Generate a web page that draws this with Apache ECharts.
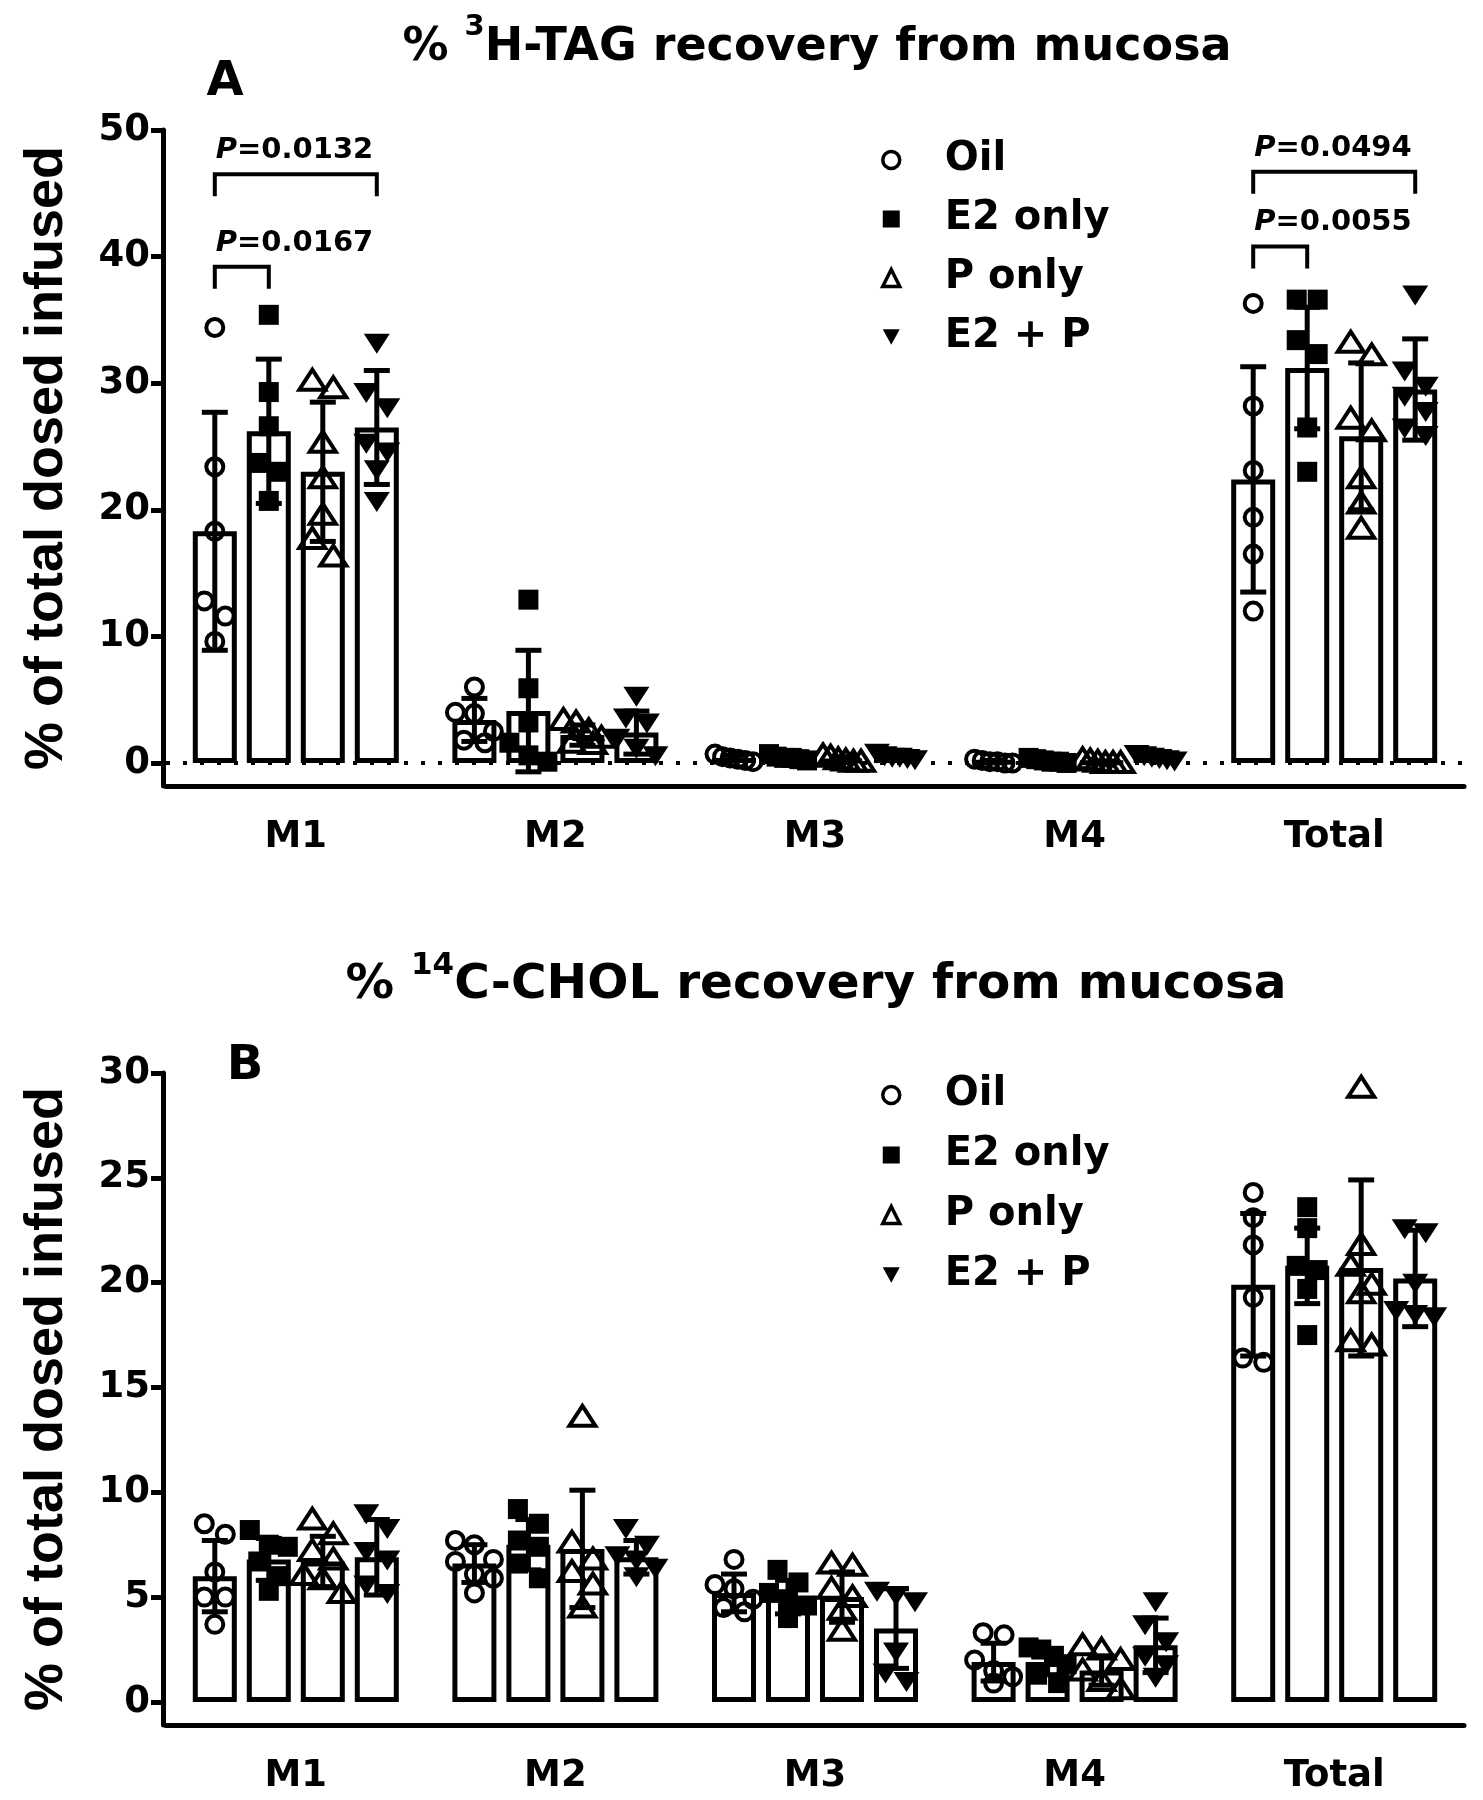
<!DOCTYPE html>
<html><head><meta charset="utf-8">
<script src="https://cdn.jsdelivr.net/npm/echarts@6/dist/echarts.min.js"></script>
<style>html,body{margin:0;padding:0;background:#fff}#c{width:1483px;height:1800px}</style>
</head><body><div id="c"></div>
<script>
// ---------- data ----------
const categories = ['M1', 'M2', 'M3', 'M4', 'Total'];
const groupNames = ['Oil', 'E2 only', 'P only', 'E2 + P'];
const yTicksA = [0, 10, 20, 30, 40, 50];
const yTicksB = [0, 5, 10, 15, 20, 25, 30];

// Panel A: % 3H-TAG recovery from mucosa
const tagMeanOil = [18.3, 3.4, 0.4, 0.1, 22.4];
const tagMeanE2  = [26.2, 4.1, 0.4, 0.15, 31.2];
const tagMeanP   = [23.0, 2.2, 0.3, 0.05, 25.8];
const tagMeanE2P = [26.5, 2.4, 0.5, 0.4, 29.5];
const tagSdOil = [9.4, 1.7, 0.2, 0.1, 8.9];
const tagSdE2  = [5.7, 4.8, 0.2, 0.1, 4.8];
const tagSdP   = [5.5, 0.8, 0.2, 0.1, 5.8];
const tagSdE2P = [4.5, 1.7, 0.2, 0.2, 4.0];
const tagPtsOil = [[34.4, 23.4, 18.3, 12.8, 11.6, 9.6], [6.0, 4.0, 3.9, 2.5, 1.8, 1.6], [0.7, 0.5, 0.4, 0.3, 0.2, 0.1], [0.3, 0.2, 0.1, 0.1, 0.0, 0.0], [36.3, 28.2, 23.1, 19.4, 16.5, 12.0]];
const tagPtsE2  = [[35.4, 29.3, 26.6, 23.7, 23.0, 20.7], [12.9, 5.9, 3.2, 1.6, 0.6, 0.1], [0.7, 0.5, 0.4, 0.4, 0.3, 0.2], [0.4, 0.3, 0.2, 0.1, 0.1, 0.0], [36.6, 36.6, 33.4, 32.3, 26.5, 23.0]];
const tagPtsP   = [[30.2, 29.6, 25.3, 22.5, 19.6, 17.7, 16.3], [3.4, 3.2, 2.6, 2.0, 1.6, 1.5], [0.6, 0.5, 0.3, 0.2, 0.1, 0.1], [0.3, 0.2, 0.1, 0.0, 0.0, 0.0], [33.2, 32.2, 27.2, 26.2, 22.5, 20.5, 18.5]];
const tagPtsE2P = [[33.2, 29.3, 28.1, 25.3, 24.6, 23.2, 20.7], [5.3, 3.6, 3.2, 2.0, 1.2, 0.6], [0.8, 0.6, 0.5, 0.5, 0.4, 0.3], [0.7, 0.6, 0.5, 0.4, 0.3, 0.2], [37.0, 31.0, 29.8, 29.0, 27.8, 26.5, 25.9]];

// Panel A significance brackets
const bracketCat   = [0, 0, 4, 4];
const bracketFrom  = [0, 0, 0, 0];
const bracketTo    = [3, 1, 3, 1];
const bracketY     = [46.5, 39.2, 46.7, 40.8];
const bracketPval  = ['0.0132', '0.0167', '0.0494', '0.0055'];

// Panel B: % 14C-CHOL recovery from mucosa
const cholMeanOil = [6.0, 6.6, 5.2, 1.9, 19.9];
const cholMeanE2  = [6.8, 7.5, 5.0, 1.9, 20.8];
const cholMeanP   = [6.7, 7.3, 5.0, 1.5, 20.7];
const cholMeanE2P = [6.9, 6.9, 3.5, 2.7, 20.2];
const cholSdOil = [1.7, 0.9, 0.9, 0.9, 3.4];
const cholSdE2  = [1.0, 1.2, 0.8, 0.6, 1.8];
const cholSdP   = [1.2, 2.8, 1.2, 0.7, 4.2];
const cholSdE2P = [1.8, 0.8, 1.9, 1.3, 2.3];
const cholPtsOil = [[8.5, 8.0, 6.2, 5.0, 5.0, 3.7], [7.7, 7.5, 6.8, 6.7, 6.1, 5.9, 5.2], [6.8, 5.6, 5.4, 4.9, 4.5, 4.3], [3.3, 3.2, 2.0, 1.5, 1.2, 0.9], [24.3, 23.1, 21.8, 19.3, 16.4, 16.2]];
const cholPtsE2  = [[8.2, 7.5, 7.4, 6.7, 6.0, 5.3], [9.2, 8.5, 7.7, 7.4, 6.6, 5.9], [6.3, 5.7, 5.2, 4.9, 4.6, 4.0], [2.6, 2.5, 2.2, 1.8, 1.3, 0.9], [23.6, 22.6, 20.8, 20.6, 19.7, 17.5]];
const cholPtsP   = [[8.7, 8.0, 7.2, 6.8, 6.05, 5.85, 5.2], [13.6, 7.6, 6.8, 6.2, 5.6, 4.5], [6.6, 6.5, 5.4, 5.0, 4.4, 3.4], [2.7, 2.5, 2.0, 1.5, 1.0, 0.6], [29.3, 21.8, 20.8, 19.9, 19.5, 17.2, 17.0]];
const cholPtsE2P = [[9.0, 8.3, 7.2, 6.8, 5.6, 5.2], [8.3, 7.5, 7.0, 6.8, 6.4, 6.0], [5.3, 5.1, 4.8, 2.4, 1.4, 1.0], [4.8, 3.7, 2.9, 2.2, 1.8, 1.2], [22.6, 22.4, 20.0, 18.7, 18.5, 18.4]];

// ---------- styling / layout ----------
const FONT = 'DejaVu Sans';
const BAR_W = 44, BAR_GAP = 10 / 44, BAR_STEP = BAR_W * (1 + BAR_GAP);
const MK_W = 21, MK_H = 19, MAX_SPREAD = 19;
const offsetOf = g => (g - 1.5) * BAR_STEP;

const panels = [
  { means: [tagMeanOil, tagMeanE2, tagMeanP, tagMeanE2P], sds: [tagSdOil, tagSdE2, tagSdP, tagSdE2P],
    pts: [tagPtsOil, tagPtsE2, tagPtsP, tagPtsE2P], min: -1.82, max: 50, ticks: yTicksA,
    grid: { left: 166, width: 1298, top: 130, height: 656 }, zeroLine: true },
  { means: [cholMeanOil, cholMeanE2, cholMeanP, cholMeanE2P], sds: [cholSdOil, cholSdE2, cholSdP, cholSdE2P],
    pts: [cholPtsOil, cholPtsE2, cholPtsP, cholPtsE2P], min: -1.1, max: 30, ticks: yTicksB,
    grid: { left: 166, width: 1298, top: 1073, height: 652 }, zeroLine: false }
];

// beeswarm-like horizontal spreading, computed in pixel space
function swarmOffsets(api, c, vals) {
  const ys = vals.map(v => api.coord([c, v])[1]);
  const order = ys.map((y, i) => i).sort((a, b) => ys[a] - ys[b]);
  const offs = new Array(vals.length).fill(0);
  let i = 0;
  while (i < order.length) {
    const cluster = [order[i]];
    let j = i + 1;
    while (j < order.length && Math.abs(ys[order[j]] - ys[order[i]]) < MK_H) { cluster.push(order[j]); j++; }
    const n = cluster.length;
    if (n > 1) {
      const step = Math.min(MK_W, (2 * MAX_SPREAD) / (n - 1));
      cluster.forEach((idx, k) => { offs[idx] = (k - (n - 1) / 2) * step; });
    }
    i = j;
  }
  return offs;
}

function marker(g, cx, cy) {
  if (g === 0) return { type: 'circle', shape: { cx, cy, r: 8.5 }, style: { fill: 'rgba(0,0,0,0)', stroke: '#000', lineWidth: 4 } };
  if (g === 1) return { type: 'rect', shape: { x: cx - 10, y: cy - 10, width: 20, height: 20 }, style: { fill: '#000' } };
  if (g === 2) return { type: 'polygon', shape: { points: [[cx, cy - 11], [cx + 13, cy + 9], [cx - 13, cy + 9]] }, style: { fill: 'rgba(0,0,0,0)', stroke: '#000', lineWidth: 4, lineJoin: 'miter' } };
  return { type: 'polygon', shape: { points: [[cx - 13, cy - 9], [cx + 13, cy - 9], [cx, cy + 11]] }, style: { fill: '#000' } };
}

const grids = [], xAxes = [], yAxes = [], series = [];
panels.forEach((P, p) => {
  grids.push(P.grid);
  xAxes.push({
    type: 'category', gridIndex: p, data: categories,
    axisLine: { onZero: false, lineStyle: { color: '#000', width: 5 } },
    axisTick: { alignWithLabel: true, length: 14, lineStyle: { color: '#000', width: 5 } },
    axisLabel: { fontFamily: FONT, fontWeight: 'bold', fontSize: 37, color: '#000', margin: 33 },
    splitLine: { show: false }
  });
  yAxes.push({
    type: 'value', gridIndex: p, min: P.min, max: P.max, offset: 3,
    name: '% of total dosed infused', nameLocation: 'middle', nameGap: 89,
    nameTextStyle: { fontFamily: 'Liberation Sans', fontWeight: 'bold', fontSize: 54, color: '#000' },
    axisLine: { show: true, lineStyle: { color: '#000', width: 5 } },
    axisTick: { show: true, length: 12, customValues: P.ticks, lineStyle: { color: '#000', width: 5 } },
    axisLabel: { customValues: P.ticks, fontFamily: FONT, fontWeight: 'bold', fontSize: 37, color: '#000', margin: 13 },
    splitLine: { show: false }
  });
  // bars
  for (let g = 0; g < 4; g++) {
    const s = {
      type: 'bar', name: groupNames[g], xAxisIndex: p, yAxisIndex: p, data: P.means[g],
      barWidth: BAR_W, barGap: (BAR_GAP * 100) + '%', z: 2, silent: true,
      itemStyle: { color: '#fff', borderColor: '#000', borderWidth: 5 }
    };
    if (g === 0 && P.zeroLine) {
      s.markLine = { silent: true, symbol: ['none', 'none'], label: { show: false },
        lineStyle: { color: '#000', type: [4, 13], width: 4 }, data: [{ yAxis: 0 }] };
    }
    series.push(s);
  }
  // individual points
  for (let g = 0; g < 4; g++) {
    const data = [];
    P.pts[g].forEach((vals, c) => vals.forEach((v, k) => data.push([c, v, k])));
    series.push({
      type: 'custom', name: groupNames[g] + ' points ' + p, xAxisIndex: p, yAxisIndex: p, z: 3, silent: true,
      encode: { x: 0, y: 1 }, data,
      renderItem: (params, api) => {
        const c = api.value(0), v = api.value(1), k = api.value(2);
        const offs = swarmOffsets(api, c, P.pts[g][c]);
        const pt = api.coord([c, v]);
        return marker(g, pt[0] + offsetOf(g) + offs[k], pt[1]);
      }
    });
  }
  // error bars (mean ± SD)
  for (let g = 0; g < 4; g++) {
    const data = P.means[g].map((m, c) => [c, m, P.sds[g][c]]);
    series.push({
      type: 'custom', name: groupNames[g] + ' sd ' + p, xAxisIndex: p, yAxisIndex: p, z: 4, silent: true,
      encode: { x: 0, y: 1 }, data,
      renderItem: (params, api) => {
        const c = api.value(0), m = api.value(1), sd = api.value(2);
        const top = api.coord([c, m + sd]), bot = api.coord([c, m - sd]);
        const x = top[0] + offsetOf(g);
        const st = { stroke: '#000', lineWidth: 5 };
        return { type: 'group', children: [
          { type: 'line', shape: { x1: x, y1: top[1], x2: x, y2: bot[1] }, style: st },
          { type: 'line', shape: { x1: x - 13, y1: top[1], x2: x + 13, y2: top[1] }, style: st },
          { type: 'line', shape: { x1: x - 13, y1: bot[1], x2: x + 13, y2: bot[1] }, style: st }
        ] };
      }
    });
  }
});

// significance brackets (panel A)
series.push({
  type: 'custom', name: 'brackets', xAxisIndex: 0, yAxisIndex: 0, z: 5, silent: true,
  encode: { x: 0, y: 1 },
  data: bracketCat.map((c, i) => [c, bracketY[i], bracketFrom[i], bracketTo[i], i]),
  renderItem: (params, api) => {
    const c = api.value(0), y = api.value(1), f = api.value(2), t = api.value(3), i = api.value(4);
    const pt = api.coord([c, y]);
    const x1 = pt[0] + offsetOf(f), x2 = pt[0] + offsetOf(t), yy = pt[1];
    return { type: 'group', children: [
      { type: 'polyline', shape: { points: [[x1, yy + 22], [x1, yy], [x2, yy], [x2, yy + 22]] },
        style: { stroke: '#000', lineWidth: 4, fill: null } },
      { type: 'text', x: x1 + 1, y: yy - 9,
        style: { text: '{i|P}{n|=' + bracketPval[i] + '}', align: 'left', verticalAlign: 'bottom',
          rich: { i: { fontFamily: FONT, fontWeight: 'bold', fontStyle: 'italic', fontSize: 29, fill: '#000' },
                  n: { fontFamily: FONT, fontWeight: 'bold', fontSize: 29, fill: '#000' } } } }
    ] };
  }
});

function legendCfg(top, gap) {
  return {
    orient: 'vertical', left: 876, top, itemWidth: 17, itemHeight: 17, itemGap: gap, selectedMode: false,
    textStyle: { fontFamily: FONT, fontWeight: 'bold', fontSize: 40, color: '#000', lineHeight: 40, padding: [0, 0, 0, 40] },
    data: [
      { name: 'Oil', icon: 'circle', itemStyle: { color: '#fff', borderColor: '#000', borderWidth: 3.5 } },
      { name: 'E2 only', icon: 'rect', itemStyle: { color: '#000', borderColor: '#000', borderWidth: 0 } },
      { name: 'P only', icon: 'triangle', itemStyle: { color: '#fff', borderColor: '#000', borderWidth: 3.5 } },
      { name: 'E2 + P', icon: 'path://M0,0L12,0L6,11Z', itemStyle: { color: '#000', borderColor: '#000', borderWidth: 0 } }
    ]
  };
}

const titleRichA = {
  t: { fontFamily: FONT, fontWeight: 'bold', fontSize: 46, lineHeight: 58, fill: '#000', verticalAlign: 'bottom' },
  s: { fontFamily: FONT, fontWeight: 'bold', fontSize: 29, lineHeight: 34, fill: '#000', verticalAlign: 'top' }
};
const titleRichB = {
  t: { fontFamily: FONT, fontWeight: 'bold', fontSize: 48.5, lineHeight: 60, fill: '#000', verticalAlign: 'bottom' },
  s: { fontFamily: FONT, fontWeight: 'bold', fontSize: 31, lineHeight: 35, fill: '#000', verticalAlign: 'top' }
};

const option = {
  animation: false,
  backgroundColor: '#fff',
  grid: grids, xAxis: xAxes, yAxis: yAxes, series,
  legend: [legendCfg(135, 19), legendCfg(1070, 20)],
  graphic: [
    { type: 'text', x: 817, y: 42, style: { text: '{t|% }{s|3}{t|H-TAG recovery from mucosa}', rich: titleRichA, align: 'center', verticalAlign: 'middle' } },
    { type: 'text', x: 816, y: 980, style: { text: '{t|% }{s|14}{t|C-CHOL recovery from mucosa}', rich: titleRichB, align: 'center', verticalAlign: 'middle' } },
    { type: 'text', x: 225, y: 83, style: { text: 'A', fontFamily: FONT, fontWeight: 'bold', fontSize: 48, fill: '#000', align: 'center', verticalAlign: 'middle' } },
    { type: 'text', x: 245, y: 1067, style: { text: 'B', fontFamily: FONT, fontWeight: 'bold', fontSize: 48, fill: '#000', align: 'center', verticalAlign: 'middle' } }
  ]
};

const chart = echarts.init(document.getElementById('c'), null, { renderer: 'canvas' });
chart.setOption(option);
</script>
</body></html>
